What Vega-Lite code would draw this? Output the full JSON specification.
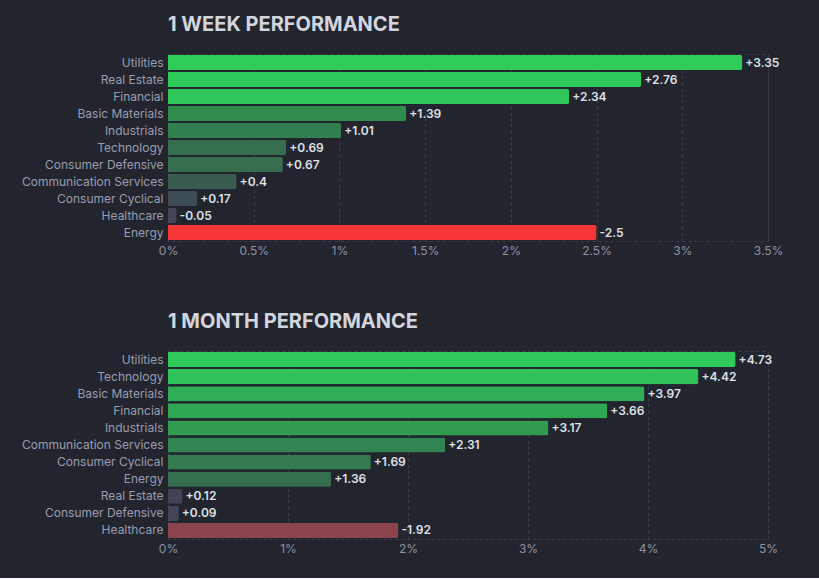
{
  "$schema": "https://vega.github.io/schema/vega-lite/v6.json",
  "background": "#22252e",
  "padding": {"left": 20, "top": 14, "right": 38, "bottom": 23},
  "datasets": {
    "week": [
      {"sector": "Utilities", "change": 3.35, "magnitude": 3.35},
      {"sector": "Real Estate", "change": 2.76, "magnitude": 2.76},
      {"sector": "Financial", "change": 2.34, "magnitude": 2.34},
      {"sector": "Basic Materials", "change": 1.39, "magnitude": 1.39},
      {"sector": "Industrials", "change": 1.01, "magnitude": 1.01},
      {"sector": "Technology", "change": 0.69, "magnitude": 0.69},
      {"sector": "Consumer Defensive", "change": 0.67, "magnitude": 0.67},
      {"sector": "Communication Services", "change": 0.4, "magnitude": 0.4},
      {"sector": "Consumer Cyclical", "change": 0.17, "magnitude": 0.17},
      {"sector": "Healthcare", "change": -0.05, "magnitude": 0.05},
      {"sector": "Energy", "change": -2.5, "magnitude": 2.5}
    ],
    "month": [
      {"sector": "Utilities", "change": 4.73, "magnitude": 4.73},
      {"sector": "Technology", "change": 4.42, "magnitude": 4.42},
      {"sector": "Basic Materials", "change": 3.97, "magnitude": 3.97},
      {"sector": "Financial", "change": 3.66, "magnitude": 3.66},
      {"sector": "Industrials", "change": 3.17, "magnitude": 3.17},
      {"sector": "Communication Services", "change": 2.31, "magnitude": 2.31},
      {"sector": "Consumer Cyclical", "change": 1.69, "magnitude": 1.69},
      {"sector": "Energy", "change": 1.36, "magnitude": 1.36},
      {"sector": "Real Estate", "change": 0.12, "magnitude": 0.12},
      {"sector": "Consumer Defensive", "change": 0.09, "magnitude": 0.09},
      {"sector": "Healthcare", "change": -1.92, "magnitude": 1.92}
    ]
  },
  "config": {
    "font": "Inter",
    "view": {"stroke": "#3a3d4a", "strokeDash": [3, 3], "strokeWidth": 1},
    "axis": {
      "domain": false,
      "ticks": false,
      "grid": false,
      "title": null,
      "labelFont": "Inter",
      "labelFontSize": 12,
      "labelColor": "#8f92a4"
    },
    "axisX": {
      "grid": true,
      "gridColor": "#3a3d4a",
      "gridDash": [3, 3],
      "labelPadding": 4,
      "labelFlush": false
    },
    "axisY": {"labelPadding": 5, "labelColor": "#9a9db0"},
    "title": {
      "anchor": "start",
      "frame": "group",
      "font": "Inter",
      "fontSize": 20,
      "fontWeight": 700,
      "color": "#d3d5de",
      "baseline": "alphabetic",
      "offset": 19
    }
  },
  "spacing": 54,
  "resolve": {"scale": {"color": "independent", "x": "independent", "y": "independent"}},
  "vconcat": [
    {
      "title": {"text": "1 WEEK PERFORMANCE"},
      "width": 600,
      "height": 187,
      "data": {"name": "week"},
      "encoding": {
        "y": {
          "field": "sector",
          "type": "nominal",
          "sort": {"field": "change", "order": "descending"},
          "scale": {"paddingInner": 0.12, "paddingOuter": 0.06},
          "axis": {"title": null}
        },
        "x": {
          "field": "magnitude",
          "type": "quantitative",
          "scale": {"domain": [0, 3.5], "nice": false},
          "axis": {"title": null, "values": [0, 0.5, 1, 1.5, 2, 2.5, 3, 3.5], "labelExpr": "datum.value + '%'"}
        }
      },
      "layer": [
        {
          "mark": {"type": "bar", "cornerRadiusEnd": 2},
          "encoding": {
            "color": {
              "field": "sector",
              "type": "nominal",
              "legend": null,
              "scale": {
                "domain": ["Utilities", "Real Estate", "Financial", "Basic Materials", "Industrials", "Technology", "Consumer Defensive", "Communication Services", "Consumer Cyclical", "Healthcare", "Energy"],
                "range": ["#2fcc5a", "#2fcb5a", "#2fc659", "#2f8c4d", "#327f50", "#356e4e", "#356d4e", "#3a5b50", "#3e4c55", "#434656", "#f63538"]
              }
            }
          }
        },
        {
          "mark": {"type": "text", "align": "left", "dx": 3, "font": "Inter", "fontSize": 12, "fontWeight": 600, "color": "#dfe1e8", "text": {"expr": "(datum.change >= 0 ? '+' : '') + datum.change"}},
          "encoding": {}
        }
      ]
    },
    {
      "title": {"text": "1 MONTH PERFORMANCE"},
      "width": 600,
      "height": 188,
      "data": {"name": "month"},
      "encoding": {
        "y": {
          "field": "sector",
          "type": "nominal",
          "sort": {"field": "change", "order": "descending"},
          "scale": {"paddingInner": 0.12, "paddingOuter": 0.06},
          "axis": {"title": null}
        },
        "x": {
          "field": "magnitude",
          "type": "quantitative",
          "scale": {"domain": [0, 5], "nice": false},
          "axis": {"title": null, "values": [0, 1, 2, 3, 4, 5], "labelExpr": "datum.value + '%'"}
        }
      },
      "layer": [
        {
          "mark": {"type": "bar", "cornerRadiusEnd": 2},
          "encoding": {
            "color": {
              "field": "sector",
              "type": "nominal",
              "legend": null,
              "scale": {
                "domain": ["Utilities", "Technology", "Basic Materials", "Financial", "Industrials", "Communication Services", "Consumer Cyclical", "Energy", "Real Estate", "Consumer Defensive", "Healthcare"],
                "range": ["#2fca5a", "#2fc259", "#2eae55", "#2ea753", "#2f9c50", "#318552", "#347b50", "#356e4e", "#414455", "#424556", "#8b444e"]
              }
            }
          }
        },
        {
          "mark": {"type": "text", "align": "left", "dx": 3, "font": "Inter", "fontSize": 12, "fontWeight": 600, "color": "#dfe1e8", "text": {"expr": "(datum.change >= 0 ? '+' : '') + datum.change"}},
          "encoding": {}
        }
      ]
    }
  ]
}
